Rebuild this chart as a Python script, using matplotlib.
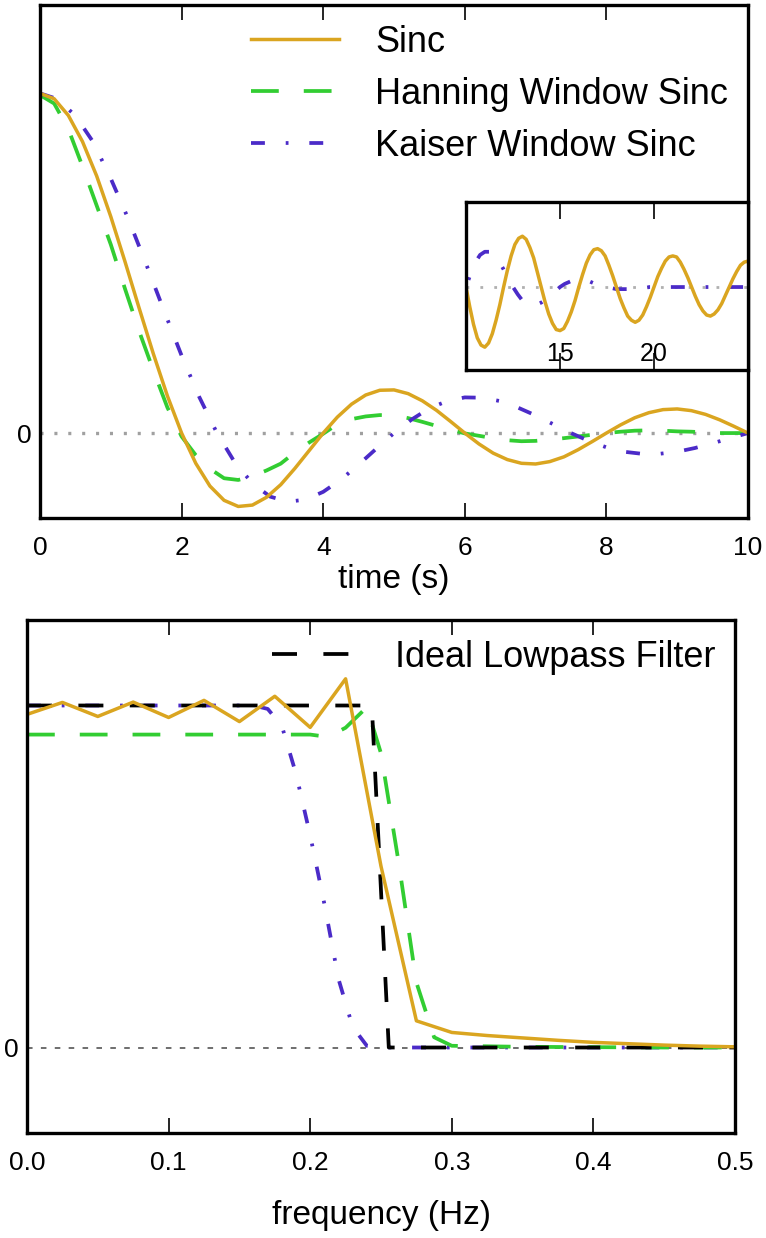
import numpy as np
import matplotlib
matplotlib.use("Agg")
import matplotlib.pyplot as plt

plt.rcParams['font.family'] = ['Liberation Sans', 'DejaVu Sans']
plt.rcParams['lines.scale_dashes'] = False

# ---- time domain (s) ----
t_sinc = np.linspace(0, 25, 126)
sinc_vals = [
    1.0, 0.984, 0.935, 0.858, 0.757, 0.637, 0.505, 0.368, 0.234, 0.109,
    0.0, -0.089, -0.156, -0.198, -0.216, -0.212, -0.189, -0.152, -0.104, -0.052,
    0.0, 0.047, 0.085, 0.112, 0.126, 0.127, 0.116, 0.095, 0.067, 0.034,
    0.0, -0.032, -0.059, -0.078, -0.089, -0.091, -0.084, -0.070, -0.049, -0.025,
    0.0, 0.024, 0.045, 0.060, 0.069, 0.071, 0.066, 0.055, 0.039, 0.020,
    0.0, -0.019, -0.036, -0.049, -0.056, -0.058, -0.054, -0.045, -0.032, -0.017,
    0.0, 0.016, 0.030, 0.041, 0.047, 0.049, 0.046, 0.038, 0.028, 0.014,
    0.0, -0.014, -0.026, -0.035, -0.041, -0.042, -0.040, -0.033, -0.024, -0.013,
    0.0, 0.012, 0.023, 0.031, 0.036, 0.037, 0.035, 0.030, 0.021, 0.011,
    0.0, -0.011, -0.020, -0.028, -0.032, -0.034, -0.032, -0.027, -0.019, -0.010,
    0.0, 0.010, 0.018, 0.025, 0.029, 0.030, 0.029, 0.024, 0.017, 0.009,
    0.0, -0.009, -0.017, -0.023, -0.027, -0.028, -0.026, -0.022, -0.016, -0.008,
    0.0, 0.008, 0.015, 0.021, 0.024, 0.025,
]

t_hann = np.linspace(0, 10, 51)
hann_vals = [
    0.995, 0.970, 0.895, 0.785, 0.670, 0.555, 0.425, 0.300, 0.185, 0.075,
    -0.010, -0.065, -0.105, -0.133, -0.138, -0.127, -0.110, -0.090, -0.057, -0.028,
    -0.002, 0.026, 0.041, 0.049, 0.053, 0.052, 0.044, 0.033, 0.021, 0.010,
    -0.001, -0.008, -0.015, -0.021, -0.024, -0.023, -0.019, -0.015, -0.010, -0.005,
    0.0, 0.004, 0.007, 0.008, 0.007, 0.005, 0.004, 0.002, 0.0, 0.0,
    0.0,
]

t_kaiser = np.linspace(0, 25, 101)
kaiser_vals = [
    1.0, 0.983, 0.934, 0.857, 0.749, 0.629, 0.497, 0.361, 0.228, 0.106,
    0.0, -0.086, -0.148, -0.187, -0.202, -0.196, -0.173, -0.137, -0.093, -0.046,
    0.0, 0.040, 0.073, 0.094, 0.105, 0.104, 0.094, 0.075, 0.052, 0.026,
    0.0, -0.023, -0.042, -0.055, -0.061, -0.061, -0.055, -0.044, -0.030, -0.015,
    0.0, 0.013, 0.024, 0.031, 0.034, 0.034, 0.031, 0.025, 0.017, 0.008,
    0.0, -0.007, -0.013, -0.016, -0.018, -0.017, -0.015, -0.012, -0.008, -0.004,
    0.0, 0.003, 0.005, 0.007, 0.007, 0.007, 0.006, 0.004, 0.003, 0.001,
    0.0, -0.001, -0.002, -0.002, -0.002, -0.002, -0.001, -0.001, -0.001, 0.0,
    0.0, 0.0, 0.0, 0.0, 0.0, 0.0, 0.0, 0.0, 0.0, 0.0,
    0.0, 0.0, 0.0, 0.0, 0.0, 0.0, 0.0, 0.0, 0.0, 0.0,
    0.0,
]

# ---- frequency domain (Hz) ----
f_sinc = np.linspace(0, 0.5, 21)
sinc_spec = [0.974, 1.009, 0.968, 1.010, 0.965, 1.015, 0.953, 1.027, 0.936, 1.078,
             0.53, 0.078, 0.044, 0.035, 0.028, 0.021, 0.015, 0.011, 0.007, 0.004, 0.002]

f_hann = [0.0, 0.2, 0.2125, 0.225, 0.24, 0.25, 0.2625, 0.275, 0.2875, 0.3, 0.35, 0.4, 0.45, 0.5]
hann_spec = [0.915, 0.915, 0.908, 0.935, 0.995, 0.86, 0.54, 0.19, 0.03, 0.005, 0.002, 0.001, 0.0, 0.0]

f_kaiser = [0.0, 0.16, 0.17, 0.18, 0.19, 0.2, 0.21, 0.22, 0.23, 0.24, 0.25, 0.5]
kaiser_spec = [1.0, 1.0, 0.99, 0.94, 0.80, 0.62, 0.42, 0.20, 0.06, 0.005, 0.0, 0.0]

f_ideal = [0.0, 0.2435, 0.2555, 0.5]
ideal_spec = [1.0, 1.0, 0.0, 0.0]

sinc_style = dict(color='goldenrod', lw=2.5)
hann_style = dict(color='limegreen', lw=2.7, dashes=(20, 18))
kaiser_style = dict(color='#4b2bc8', lw=2.7, dashes=(10, 15, 2, 15))

W, H = 766, 1238
fig = plt.figure(figsize=(W / 100, H / 100), dpi=100)


def box(x0, y0, x1, y1):
    # pixel box -> figure fraction
    return [x0 / W, 1 - y1 / H, (x1 - x0) / W, (y1 - y0) / H]


ax1 = fig.add_axes(box(40, 5, 748, 518))
ax2 = fig.add_axes(box(27, 620, 735, 1133))
ins = fig.add_axes(box(466, 202, 748, 370))

# top: time domain
ax1.axhline(0, color='#a0a0a0', lw=2.4, dashes=(2.2, 7.8), zorder=1)
h_hann, = ax1.plot(t_hann, hann_vals, label='Hanning Window Sinc', **hann_style)
h_kai, = ax1.plot(t_kaiser, kaiser_vals, label='Kaiser Window Sinc', **kaiser_style)
h_sinc, = ax1.plot(t_sinc, sinc_vals, label='Sinc', **sinc_style)
ax1.set_xlim(0, 10)
ax1.set_ylim(-0.25, 1.26)
ax1.set_xticks([0, 2, 4, 6, 8, 10])
ax1.set_yticks([0])
ax1.set_yticklabels(['0'])
ax1.set_xlabel('time (s)', fontsize=24, labelpad=3)
ax1.legend([h_sinc, h_hann, h_kai], ['Sinc', 'Hanning Window Sinc', 'Kaiser Window Sinc'],
           loc='upper right', frameon=False, fontsize=26, handlelength=2.45,
           handletextpad=1.0, labelspacing=0.47, borderaxespad=0.25, borderpad=0.3)

# inset
ins.axhline(0, color='#b0b0b0', lw=2.0, dashes=(2, 8), zorder=1)
ins.plot(t_kaiser, kaiser_vals, **kaiser_style)
ins.plot(t_sinc, sinc_vals, **sinc_style)
ins.set_xlim(10, 25)
ins.set_ylim(-0.08, 0.082)
ins.set_xticks([15, 20])
ins.set_yticks([])
ins.tick_params(axis='x', direction='in', top=True, length=12, width=1.2,
                pad=-20, labelsize=18)

# bottom: frequency domain
ax2.axhline(0, color='#555555', lw=1.2, dashes=(4, 6), zorder=1)
ax2.plot(f_kaiser, kaiser_spec, **kaiser_style)
ax2.plot(f_hann, hann_spec, **hann_style)
h_ideal, = ax2.plot(f_ideal, ideal_spec, color='black', lw=2.7, dashes=(18, 19),
                    label='Ideal Lowpass Filter')
ax2.plot(f_sinc, sinc_spec, **sinc_style)
ax2.set_xlim(0, 0.5)
ax2.set_ylim(-0.25, 1.25)
ax2.set_xticks([0.0, 0.1, 0.2, 0.3, 0.4, 0.5])
ax2.set_xticklabels(['0.0', '0.1', '0.2', '0.3', '0.4', '0.5'])
ax2.set_yticks([0])
ax2.set_yticklabels(['0'])
ax2.set_xlabel('frequency (Hz)', fontsize=24, labelpad=18)
ax2.legend([h_ideal], ['Ideal Lowpass Filter'], loc='upper right', frameon=False,
           fontsize=26, handlelength=2.14, handletextpad=1.25, borderaxespad=0.25,
           borderpad=0.3)

for ax in (ax1, ax2):
    ax.tick_params(axis='x', direction='in', top=True, length=11, width=1.2,
                   pad=13, labelsize=19)
    ax.tick_params(axis='y', length=0, pad=6, labelsize=19)
for ax in (ax1, ax2, ins):
    for s in ax.spines.values():
        s.set_linewidth(2.4)

fig.savefig('out.png', dpi=100)
